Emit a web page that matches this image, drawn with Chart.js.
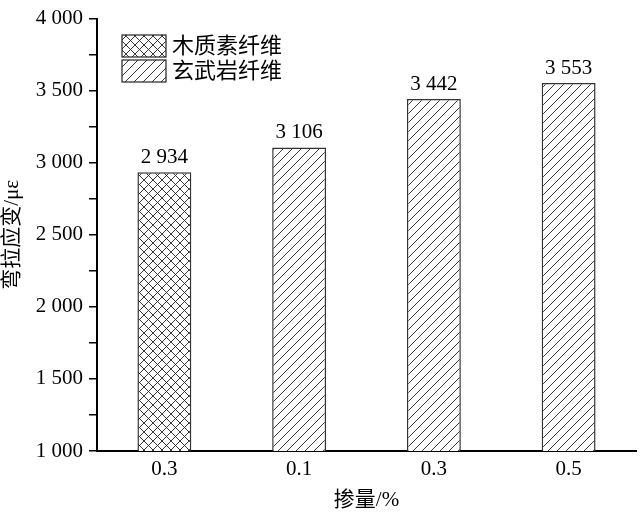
<!DOCTYPE html>
<html>
<head>
<meta charset="utf-8">
<script src="https://cdn.jsdelivr.net/npm/chart.js@4/dist/chart.umd.min.js"></script>
<style>
  body { margin: 0; background: #fff; }
  #wrap { width: 640px; height: 517px; }
</style>
</head>
<body>
<div id="wrap"><canvas id="chart"></canvas></div>
<script>
// dados
const categorias = ["0.3", "0.1", "0.3", "0.5"];
const ligninaVals = [2934, null, null, null];
const basaltoVals = [null, 3106, 3442, 3553];
const nomesSeries = ["木质素纤维", "玄武岩纤维"];
const FONT = "'Liberation Serif', 'Noto Sans CJK SC', serif";

function fmt(v) {
    return String(v).replace(/\B(?=(\d{3})+(?!\d))/g, " ");
}

// padrões de hachura
function hatch(cross) {
    const c = document.createElement("canvas");
    c.width = 9; c.height = 9;
    const g = c.getContext("2d");
    g.fillStyle = "#fff";
    g.fillRect(0, 0, 9, 9);
    g.strokeStyle = "#222";
    g.lineWidth = 0.9;
    g.beginPath();
    g.moveTo(-1, 10); g.lineTo(10, -1);
    g.moveTo(-1, 1); g.lineTo(1, -1);
    g.moveTo(8, 10); g.lineTo(10, 8);
    if (cross) {
        g.moveTo(-1, -1); g.lineTo(10, 10);
        g.moveTo(8, -1); g.lineTo(10, 1);
        g.moveTo(-1, 8); g.lineTo(1, 10);
    }
    g.stroke();
    return g.createPattern(c, "repeat");
}
const patCross = hatch(true);
const patDiag = hatch(false);

// rótulos e legenda
const extras = {
    id: "extras",
    afterDatasetsDraw(ch) {
        const ctx = ch.ctx;
        ctx.save();
        ctx.fillStyle = "#000";
        ctx.font = "21px " + FONT;
        ctx.textAlign = "center";
        ctx.textBaseline = "bottom";
        ch.data.datasets.forEach((ds, i) => {
            ch.getDatasetMeta(i).data.forEach((bar, j) => {
                if (ds.data[j] == null) return;
                ctx.fillText(fmt(ds.data[j]), bar.x, bar.y - 4);
            });
        });
        // legenda
        const pats = [patCross, patDiag];
        ctx.textAlign = "left";
        ctx.textBaseline = "middle";
        ctx.font = "22px " + FONT;
        nomesSeries.forEach((n, i) => {
            const y = 35 + i * 25;
            ctx.fillStyle = pats[i];
            ctx.fillRect(122, y, 44, 22);
            ctx.strokeStyle = "#222";
            ctx.lineWidth = 1.2;
            ctx.strokeRect(122, y, 44, 22);
            ctx.fillStyle = "#000";
            ctx.fillText(n, 172, y + 12);
        });
        ctx.restore();
    }
};

new Chart(document.getElementById("chart"), {
    type: "bar",
    data: {
        labels: categorias,
        datasets: [
            { label: nomesSeries[0], data: ligninaVals, backgroundColor: patCross, borderColor: "#333", borderWidth: 1.5, skipNull: true },
            { label: nomesSeries[1], data: basaltoVals, backgroundColor: patDiag, borderColor: "#333", borderWidth: 1.5, skipNull: true }
        ]
    },
    options: {
        responsive: true,
        maintainAspectRatio: false,
        animation: false,
        layout: { padding: { top: 13, right: 4, left: 0, bottom: 0 } },
        datasets: { bar: { barPercentage: 0.4, categoryPercentage: 1 } },
        plugins: { legend: { display: false }, tooltip: { enabled: false } },
        scales: {
            x: {
                afterFit(s) { s.height = 66; },
                grid: { display: false, drawTicks: false },
                border: { color: "#000", width: 2 },
                ticks: { color: "#000", font: { family: FONT, size: 21 }, padding: 6 },
                title: { display: true, text: "掺量/%", color: "#000", font: { family: FONT, size: 21 }, padding: { top: 8 } }
            },
            y: {
                min: 1000, max: 4000,
                afterFit(s) { s.width = 97; },
                grid: { drawOnChartArea: false, tickLength: 8, color: "#000", lineWidth: 1.5 },
                border: { color: "#000", width: 2 },
                ticks: {
                    stepSize: 250, color: "#000", padding: 6,
                    font: { family: FONT, size: 21 },
                    callback: v => v % 500 === 0 ? fmt(v) : ""
                },
                title: { display: true, text: "弯拉应变/με", color: "#000", font: { family: FONT, size: 21 }, padding: 0 }
            }
        }
    },
    plugins: [extras]
});
</script>
</body>
</html>
